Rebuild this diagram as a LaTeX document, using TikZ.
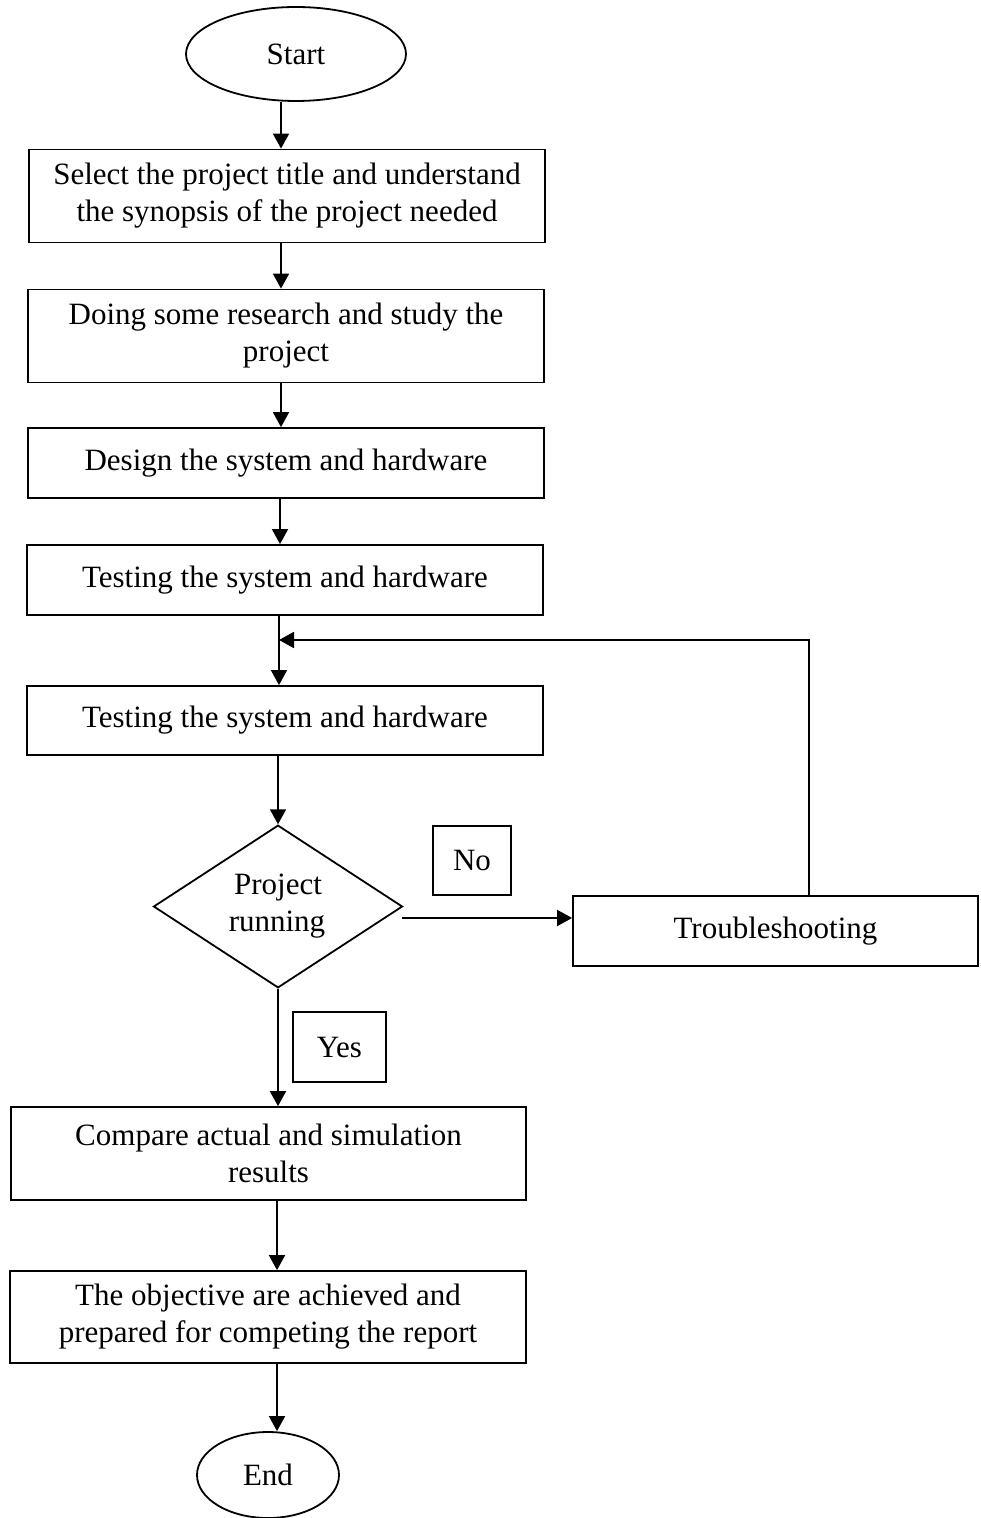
\documentclass[tikz,border=0pt]{standalone}
\usepackage{fontspec}
\setmainfont{Liberation Serif}
\usetikzlibrary{shapes.geometric,arrows.meta}
\begin{document}
\begin{tikzpicture}[x=0.5pt,y=-0.5pt,
  every node/.style={font=\fontsize{15.5}{18.5}\selectfont, align=center, inner sep=0pt},
  proc/.style={draw, line width=0.9pt, rectangle},
  term/.style={draw, line width=0.9pt, ellipse},
  dec/.style={draw, line width=0.9pt, diamond},
  arr/.style={line width=0.9pt, -{Triangle[length=7.5pt,width=8pt]}}]
\useasboundingbox (0,0) rectangle (980,1518);
\fill[white] (0,0) rectangle (980,1518);
\node[term, minimum width=110pt, minimum height=47pt] (start) at (296,54) {Start};
\node[proc, minimum width=258pt, minimum height=46.5pt] (b1) at (287,196) {Select the project title and understand\\the synopsis of the project needed};
\node[proc, minimum width=258pt, minimum height=46.5pt] (b2) at (286,336) {Doing some research and study the\\project};
\node[proc, minimum width=258pt, minimum height=35pt] (b3) at (286,463) {Design the system and hardware};
\node[proc, minimum width=258pt, minimum height=35pt] (b4) at (285,580) {Testing the system and hardware};
\node[proc, minimum width=258pt, minimum height=34.5pt] (b5) at (285,720.5) {Testing the system and hardware};
\node[dec, minimum width=124.5pt, minimum height=81pt] (d) at (278,906.5) {Project\\running\hspace*{1pt}};
\node[proc, minimum width=39pt, minimum height=34.5pt] (no) at (472,860.5) {No};
\node[proc, minimum width=202.5pt, minimum height=35pt] (trouble) at (775.5,931) {Troubleshooting};
\node[proc, minimum width=46.5pt, minimum height=35pt] (yes) at (339.5,1047) {Yes};
\node[proc, minimum width=257.5pt, minimum height=46.5pt] (b6) at (268.5,1153.5) {Compare actual and simulation\\results};
\node[proc, minimum width=258pt, minimum height=46pt] (b7) at (268,1317) {The objective are achieved and\\prepared for competing the report};
\node[term, minimum width=71pt, minimum height=43pt] (end) at (268,1475) {End};

\draw[arr] ([xshift=-7.5pt]start.south) -- ([xshift=-3pt]b1.north);
\draw[arr] ([xshift=-3pt]b1.south) -- ([xshift=-2.5pt]b2.north);
\draw[arr] ([xshift=-2.5pt]b2.south) -- ([xshift=-2.5pt]b3.north);
\draw[arr] ([xshift=-3pt]b3.south) -- ([xshift=-2.5pt]b4.north);
\draw[arr] ([xshift=-3pt]b4.south) -- ([xshift=-3pt]b5.north);
\draw[arr] ([xshift=-3.5pt]b5.south) -- (d.north);
\draw[arr] (d.south) -- (d.south |- b6.north);
\draw[arr] ([xshift=4.25pt]b6.south) -- ([xshift=4.5pt]b7.north);
\draw[arr] ([xshift=4.5pt]b7.south) -- ([xshift=4.5pt]end.north);
\coordinate (n0) at (402,918);
\draw[arr] (n0) -- ([yshift=6.5pt]trouble.west);
\coordinate (m) at (279,640);
\draw[arr] ([xshift=16.75pt]trouble.north) |- (m);
\end{tikzpicture}
\end{document}
